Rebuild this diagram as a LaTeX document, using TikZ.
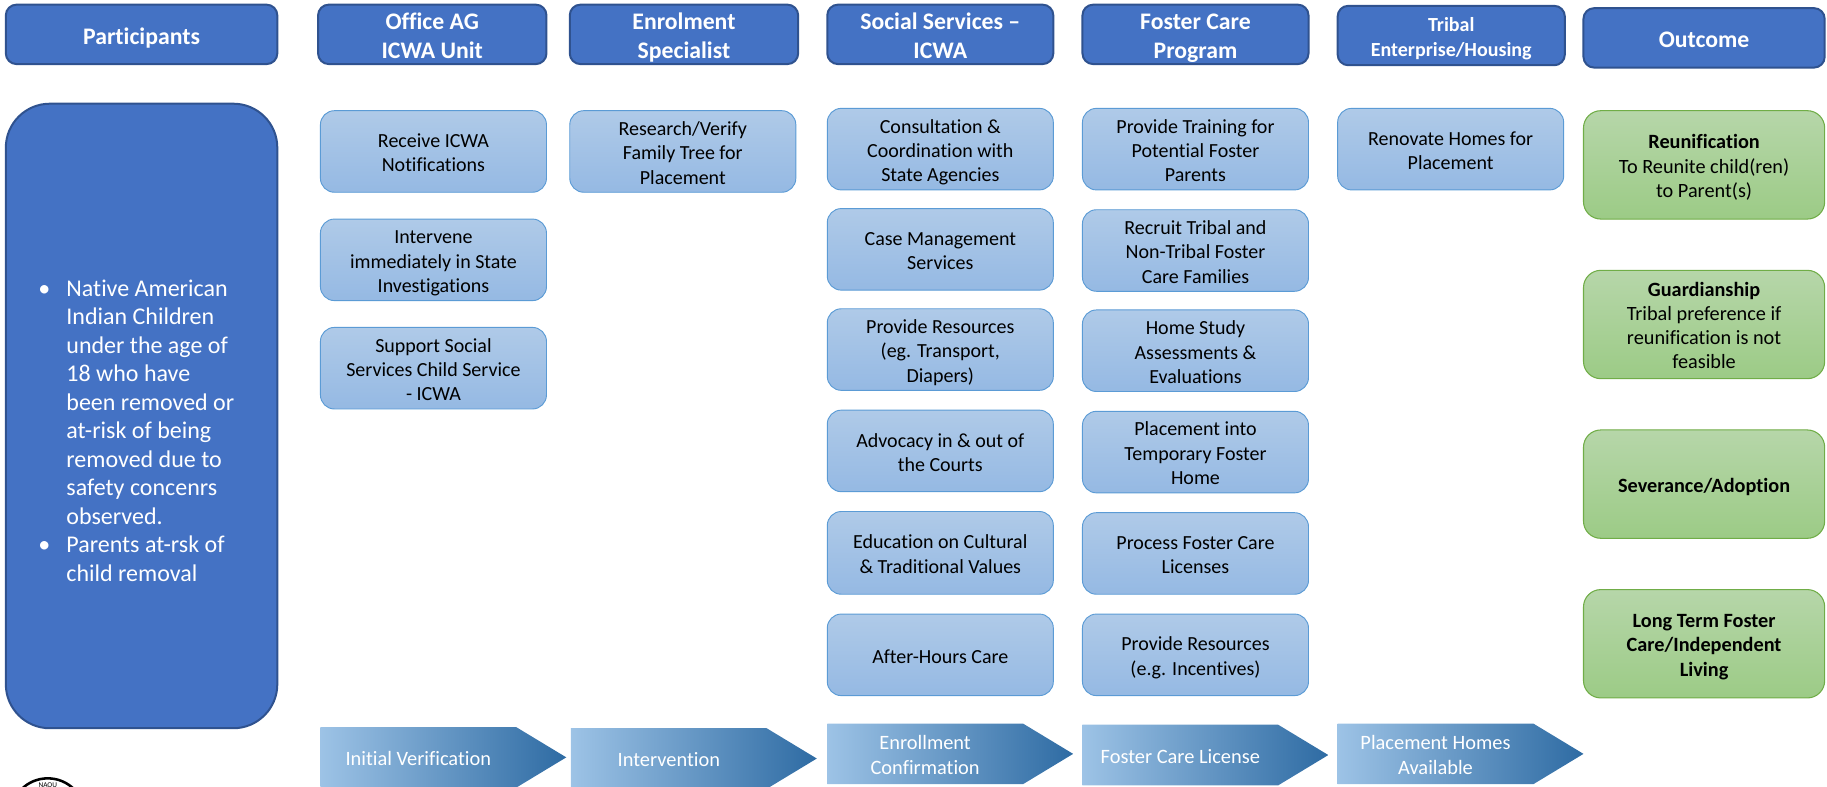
\documentclass[tikz,border=0pt]{standalone}
\usepackage{fontspec}
\setmainfont{Carlito}[Ligatures=NoCommon]
\usetikzlibrary{calc}
\definecolor{hdfill}{HTML}{4472C4}
\definecolor{hdline}{HTML}{2F528F}
\definecolor{bxtop}{HTML}{AFCAE8}
\definecolor{bxbot}{HTML}{95B9E3}
\definecolor{bxline}{HTML}{5B9BD5}
\definecolor{grtop}{HTML}{B6D6A9}
\definecolor{grbot}{HTML}{9CCB86}
\definecolor{grline}{HTML}{70AD47}
\definecolor{arrL}{HTML}{9DC3E6}
\definecolor{arrM}{HTML}{5B9BD5}
\definecolor{arrR}{HTML}{2E6BA3}
\newcommand{\U}{0.874}
\newcommand{\linebox}{\rule[-.16\baselineskip]{0pt}{\baselineskip}}
\tikzset{
  x=0.874pt,y=-0.874pt,
  base/.style={align=center,inner sep=0pt,outer sep=0pt,font=\fontsize{15}{18.3}\selectfont},
  header/.style={base,draw=hdline,line width=1.5pt,fill=hdfill,rounded corners=8pt,text=white,font=\fontsize{17.8}{21.6}\selectfont\bfseries},
  smallheader/.style={header,font=\fontsize{15}{18.6}\selectfont\bfseries},
  bigbox/.style={header,rounded corners=33pt},
  task/.style={base,draw=bxline,line width=0.7pt,top color=bxtop,bottom color=bxbot,rounded corners=10.5pt,text=black},
  result/.style={base,draw=grline,line width=0.8pt,top color=grtop,bottom color=grbot,rounded corners=13pt,text=black,font=\fontsize{15.2}{18.1}\selectfont},
  stagefill/.style={left color=arrL,middle color=arrM,right color=arrR,draw=none},
  stagetext/.style={base,text=white,font=\fontsize{15.3}{18.3}\selectfont},
  bullets/.style={inner sep=0pt,outer sep=0pt,text=white,font=\fontsize{18}{21.4}\selectfont,anchor=north west},
  logoring/.style={circle,draw=black,line width=1.9pt,inner sep=0pt},
  logotext/.style={inner sep=0pt,text=black,font=\rmfamily\fontsize{5.5}{6}\selectfont}
}
% style, name, x1, y1, x2, y2, text
\newcommand{\bx}[7]{\node[#1,minimum width={(#5-#3)*\U pt},minimum height={(#6-#4)*\U pt}] (#2) at ({(#3+#5)/2},{(#4+#6)/2}) {\linebox#7\linebox};}
% name, x1, y1, text   (fixed size 168+43 wide, 52 high)
\newcommand{\stage}[4]{%
  \shade[stagefill] (#2,#3) -- ({#2+168},#3) -- ({#2+211},{#3+26}) -- ({#2+168},{#3+52}) -- (#2,{#3+52}) -- cycle;
  \node[stagetext] (#1) at ({#2+84},{#3+26}) {\linebox#4\linebox};}
\begin{document}
\begin{tikzpicture}
\useasboundingbox (0,0) rectangle (1568,674.6);
% headers
\bx{header}{hPart}{5}{4}{238}{55}{Participants}
\bx{header}{hAg}{273}{4}{469}{55}{Office AG\\ICWA Unit}
\bx{header}{hEnr}{489}{4}{685}{55}{Enrolment\\Specialist}
\bx{header}{hSoc}{710}{4}{904}{55}{Social Services –\\ICWA}
\bx{header}{hFos}{929}{4}{1123}{55}{Foster Care\\Program}
\bx{smallheader}{hTri}{1148}{5}{1343}{56}{Tribal\\Enterprise/Housing}
\bx{header}{hOut}{1359}{7}{1566}{58}{Outcome}
% participants
\bx{bigbox}{big}{5}{89}{238}{625}{}
\node[bullets] (bigtext) at (33,237) {\begin{tabular}{@{}p{20.98pt}@{}l@{}}
•&Native American\\
&Indian Children\\
&under the age of\\
&18 who have\\
&been removed or\\
&at-risk of being\\
&removed due to\\
&safety concenrs\\
&observed.\\
•&Parents at-rsk of\\
&child removal
\end{tabular}};
% office AG
\bx{task}{a1}{275}{95}{469}{165}{Receive ICWA\\Notifications}
\bx{task}{a2}{275}{188}{469}{258}{Intervene\\immediately in State\\Investigations}
\bx{task}{a3}{275}{281}{469}{351}{Support Social\\Services Child Service\\- ICWA}
% enrolment
\bx{task}{b1}{489}{95}{683}{165}{Research/Verify\\Family Tree for\\Placement}
% social services
\bx{task}{c1}{710}{93}{904}{163}{Consultation \&\\Coordination with\\State Agencies}
\bx{task}{c2}{710}{179}{904}{249}{Case Management\\Services}
\bx{task}{c3}{710}{265}{904}{335}{Provide Resources\\(eg. Transport,\\Diapers)}
\bx{task}{c4}{710}{352}{904}{422}{Advocacy in \& out of\\the Courts}
\bx{task}{c5}{710}{439}{904}{510}{Education on Cultural\\\& Traditional Values}
\bx{task}{c6}{710}{527}{904}{597}{After-Hours Care}
% foster
\bx{task}{d1}{929}{93}{1123}{163}{Provide Training for\\Potential Foster\\Parents}
\bx{task}{d2}{929}{180}{1123}{250}{Recruit Tribal and\\Non-Tribal Foster\\Care Families}
\bx{task}{d3}{929}{266}{1123}{336}{Home Study\\Assessments \&\\Evaluations}
\bx{task}{d4}{929}{353}{1123}{423}{Placement into\\Temporary Foster\\Home}
\bx{task}{d5}{929}{440}{1123}{510}{Process Foster Care\\Licenses}
\bx{task}{d6}{929}{527}{1123}{597}{Provide Resources\\(e.g. Incentives)}
% tribal
\bx{task}{e1}{1148}{93}{1342}{163}{Renovate Homes for\\Placement}
% outcomes
\bx{result}{o1}{1359}{95}{1566}{188}{\textbf{Reunification}\\To Reunite child(ren)\\to Parent(s)}
\bx{result}{o2}{1359}{232}{1566}{325}{\textbf{Guardianship}\\Tribal preference if\\reunification is not\\feasible}
\bx{result}{o3}{1359}{369}{1566}{462}{\textbf{Severance/Adoption}}
\bx{result}{o4}{1359}{506}{1566}{599}{\textbf{Long Term Foster}\\\textbf{Care/Independent}\\\textbf{Living}}
% stages
\stage{s1}{275}{624}{Initial Verification}
\stage{s2}{490}{625}{Intervention}
\stage{s3}{710}{621}{Enrollment\\Confirmation}
\stage{s4}{929}{622}{Foster Care License}
\stage{s5}{1148}{621}{Placement Homes\\Available}
% logo, cut by the page edge
\begin{scope}
\clip (0,0) rectangle (1568,674.6);
\node[logoring,minimum size={64*\U pt}] (logo) at (41,700) {};
\node[logotext] (logoname) at (41,674) {NAOU};
\end{scope}
\end{tikzpicture}
\end{document}
